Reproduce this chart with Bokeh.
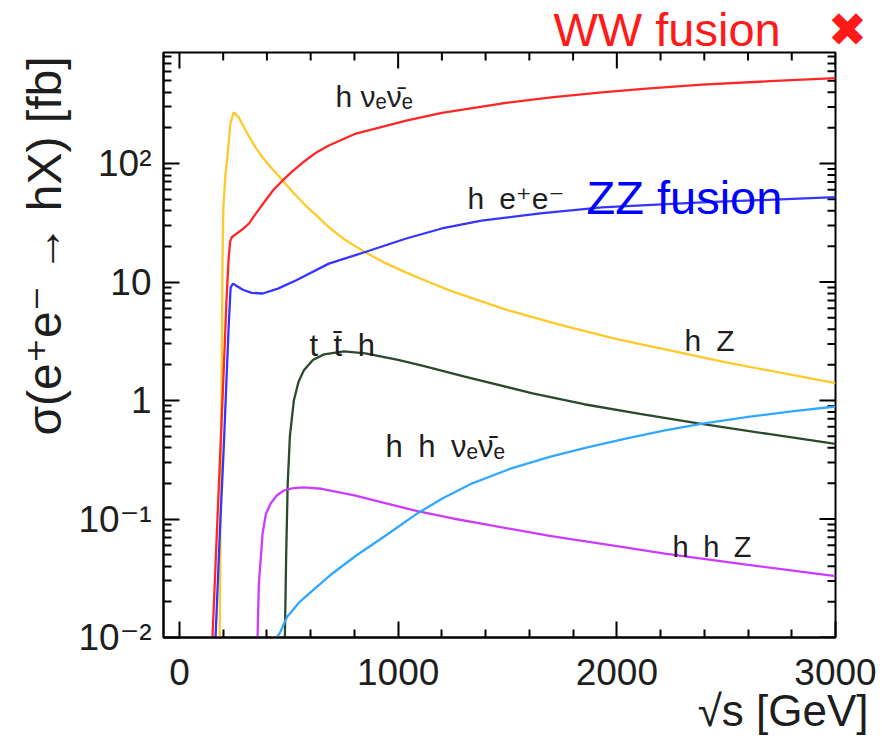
import numpy as np
from bokeh.plotting import figure
from bokeh.models import FixedTicker, LinearAxis, LogAxis, Label, Title
from bokeh.embed import file_html
from bokeh.resources import INLINE

# Higgs production cross sections in e+e- collisions, sigma [fb] vs sqrt(s) [GeV]
hz_x = [184, 190, 194, 197, 201, 210, 219, 233, 248, 271, 303, 330, 350, 381, 420, 472, 520, 578, 630, 683, 760, 853, 940, 1037, 1140, 1250, 1500, 1750, 2000, 2500, 3000]
hz_y = [0.01, 0.3, 3, 16, 43, 80, 112, 217, 270, 245, 190, 155, 135, 112, 92, 72, 57, 44, 36, 29, 22.5, 17.7, 14.5, 12, 10, 8.3, 5.8, 4.3, 3.3, 2.1, 1.4]

hnn_x = [151, 160, 180, 200, 215, 225, 232, 240, 260, 290, 320, 350, 394, 430, 472, 520, 564, 620, 683, 807, 931, 1037, 1200, 1472, 1700, 1931, 2150, 2390, 2700, 3000]
hnn_y = [0.01, 0.025, 0.19, 1.4, 7, 16, 22, 24, 25.5, 28, 31.5, 38, 49, 60, 72, 87, 102, 122, 142, 179, 205, 230, 268, 321, 362, 398, 430, 464, 495, 525]

hee_x = [165, 185, 202, 215, 225, 234, 245, 260, 290, 330, 381, 450, 532, 683, 853, 1037, 1200, 1381, 1650, 1931, 2390, 3000]
hee_y = [0.01, 0.08, 0.38, 1.5, 4.2, 9.0, 9.7, 9.3, 8.6, 8.1, 8.0, 8.8, 10.3, 14.3, 18, 23.3, 28.3, 33, 38, 42.6, 47, 52]

tth_x = [482, 488, 495, 505, 523, 545, 569, 610, 661, 752, 850, 1000, 1119, 1300, 1615, 1850, 2106, 2372, 2700, 3000]
tth_y = [0.01, 0.05, 0.2, 0.5, 1.0, 1.45, 1.8, 2.2, 2.45, 2.6, 2.5, 2.2, 1.95, 1.6, 1.15, 0.93, 0.77, 0.64, 0.52, 0.43]

hhz_x = [357, 363, 380, 395, 417, 445, 477, 520, 569, 650, 800, 950, 1083, 1250, 1400, 1693, 2000, 2220, 2600, 3000]
hhz_y = [0.01, 0.028, 0.075, 0.11, 0.135, 0.158, 0.174, 0.182, 0.185, 0.18, 0.158, 0.135, 0.117, 0.101, 0.09, 0.072, 0.059, 0.051, 0.041, 0.033]

hhnn_x = [445, 460, 491, 550, 620, 693, 807, 950, 1083, 1200, 1339, 1514, 1693, 1870, 2046, 2220, 2399, 2600, 2800, 3000]
hhnn_y = [0.01, 0.011, 0.0148, 0.02, 0.026, 0.034, 0.049, 0.074, 0.11, 0.148, 0.2, 0.266, 0.335, 0.405, 0.48, 0.56, 0.64, 0.728, 0.81, 0.89]

x_major = [0, 1000, 2000, 3000]
x_labels = ["0", "1000", "2000", "3000"]
y_major = [0.01, 0.1, 1, 10, 100]
y_labels = ["10\u207b\u00b2", "10\u207b\u00b9", "1", "10", "10\u00b2"]

FONT = "Liberation Sans, Arial, Helvetica, DejaVu Sans, sans-serif"
INK = "#1e1e1e"
SP = "\u2002"   # wider gap between particle symbols

W, H = 882, 755
FL, FR, FT, FB = 163, 835, 52, 637   # frame edges on the canvas
X0, X1 = -73, 3000
Y0, Y1 = 0.01, 865

p = figure(width=W, height=H, output_backend="svg", toolbar_location=None,
           x_range=(X0, X1), y_range=(Y0, Y1), y_axis_type="log",
           min_border_left=FL, min_border_right=W - FR, min_border_top=FT,
           min_border_bottom=H - FB, x_axis_location=None, y_axis_location=None,
           title_location=None, background_fill_color="white",
           border_fill_color="white")
p.grid.visible = False
p.outline_line_color = "black"
p.outline_line_width = 2

MAJ, MIN = 16, 8   # inward tick lengths, px
x_minor = [v for v in range(200, 3000, 200) if v % 1000 != 0]
y_minor = [k * 10.0 ** d for d in range(-2, 3) for k in range(2, 10) if k * 10.0 ** d < Y1]
xt = FixedTicker(ticks=x_major, minor_ticks=x_minor)
yt = FixedTicker(ticks=y_major, minor_ticks=y_minor)

def style(ax):
    ax.axis_line_width = 2
    ax.major_tick_line_width = 2
    ax.minor_tick_line_width = 2
    ax.major_tick_in = MAJ
    ax.major_tick_out = 0
    ax.minor_tick_in = MIN
    ax.minor_tick_out = 0
    ax.major_label_text_font = FONT
    ax.major_label_text_font_size = "37px"
    ax.major_label_text_color = INK

xb = LinearAxis(ticker=xt, major_label_overrides=dict(zip(x_major, x_labels)))
style(xb)
xb.major_label_standoff = 21
p.add_layout(xb, "below")

yl = LogAxis(ticker=yt, major_label_overrides=dict(zip(y_major, y_labels)))
style(yl)
yl.major_label_standoff = 12
p.add_layout(yl, "left")

# mirrored inward ticks along the top and right edges of the frame
px_per_x = (FR - FL) / (X1 - X0)
px_per_dec = (FB - FT) / np.log10(Y1 / Y0)
for ticks, ln in ((x_major, MAJ), (x_minor, MIN)):
    p.segment(x0=ticks, y0=[Y1] * len(ticks), x1=ticks,
              y1=[Y1 / 10 ** (ln / px_per_dec)] * len(ticks),
              line_color="black", line_width=2)
for ticks, ln in ((y_major, MAJ), (y_minor, MIN)):
    p.segment(x0=[X1] * len(ticks), y0=ticks, x1=[X1 - ln / px_per_x] * len(ticks),
              y1=ticks, line_color="black", line_width=2)

curves = [
    (hz_x, hz_y, "#ffc928"),
    (hnn_x, hnn_y, "#ff2626"),
    (hee_x, hee_y, "#3535ff"),
    (tth_x, tth_y, "#2b4a2b"),
    (hhz_x, hhz_y, "#cc3cff"),
    (hhnn_x, hhnn_y, "#30a8ff"),
]
for xs, ys, c in curves:
    p.line(xs, ys, line_color=c, line_width=2.3)

def sx(cx):
    return cx - FL

def sy(cy):
    return FB - cy

def text(t, cx, cy, size, color=INK):
    p.add_layout(Label(x=sx(cx), y=sy(cy), x_units="screen", y_units="screen",
                       text=t, text_font=FONT, text_font_size=f"{size}px",
                       text_color=color, text_align="left", text_baseline="alphabetic"))

# process labels
text("h \u03bd\u2091\u03bd\u0304\u2091", 335, 96, 30)
text(f"h{SP}e\u207ae\u207b", 467, 198, 30)
text(f"t{SP}t\u0304{SP}h", 309, 345, 31)
text(f"h{SP}Z", 684, 340, 30)
text(f"h{SP}h{SP}\u03bd\u2091\u03bd\u0304\u2091", 385, 446, 31)
text(f"h{SP}h{SP}Z", 672, 546, 29)

# ZZ fusion tag inside the frame
text("ZZ fusion", 586, 197, 47, color="#0000ff")

def title(t, side, size, color=INK, **kw):
    p.add_layout(Title(text=t, text_font=FONT, text_font_size=f"{size}px",
                       text_font_style="normal", text_color=color, **kw), side)

# WW fusion tag, crossed out, above the frame
title("WW fusion\u2003\u2716", "above", 47, color="#ff1a1a", align="left",
      offset=553 - FL, standoff=-6, vertical_align="bottom")

# axis titles
title("\u03c3(e\u207ae\u207b \u2192 hX) [fb]", "left", 48, align="right", offset=4)
title("\u221as [GeV]", "below", 44, align="right", offset=-(868 - FR), standoff=-4,
      vertical_align="top")

open("out.html", "w").write(file_html(p, INLINE))
